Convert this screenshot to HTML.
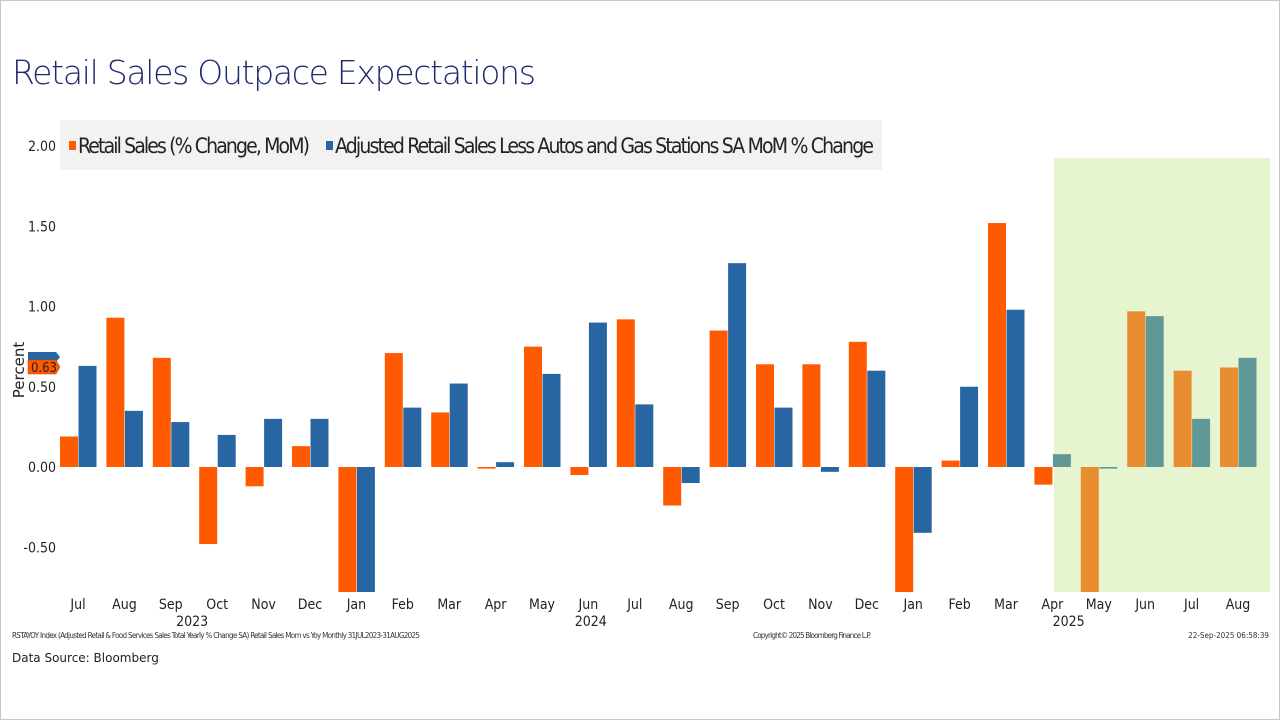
<!DOCTYPE html>
<html><head><meta charset="utf-8"><style>
html,body{margin:0;padding:0;background:#fff;}
#wrap{position:relative;width:1280px;height:720px;overflow:hidden;font-family:"Liberation Sans",sans-serif;}
</style></head><body>
<div id="wrap">
<svg id="chart" width="1280" height="720"></svg>
</div>
<script>
const categories=["Jul","Aug","Sep","Oct","Nov","Dec","Jan","Feb","Mar","Apr","May","Jun","Jul","Aug","Sep","Oct","Nov","Dec","Jan","Feb","Mar","Apr","May","Jun","Jul","Aug"];
const retailSales=[0.19,0.93,0.68,-0.48,-0.12,0.13,-1.0,0.71,0.34,-0.01,0.75,-0.05,0.92,-0.24,0.85,0.64,0.64,0.78,-0.9,0.04,1.52,-0.11,-0.9,0.97,0.60,0.62];
const adjustedSales=[0.63,0.35,0.28,0.20,0.30,0.30,-0.8,0.37,0.52,0.03,0.58,0.90,0.39,-0.10,1.27,0.37,-0.03,0.60,-0.41,0.50,0.98,0.08,-0.01,0.94,0.30,0.68];
const yTicks=[2.00,1.50,1.00,0.50,0.00,-0.50];
const yearLabels=[{i:2.46,t:"2023"},{i:11.05,t:"2024"},{i:21.35,t:"2025"}];
const shadeFrom=21;
const NS="http://www.w3.org/2000/svg";
const svg=document.getElementById('chart');
function mk(tag,attrs,txt){const e=document.createElementNS(NS,tag);for(const k in attrs)e.setAttribute(k,attrs[k]);if(txt!==undefined)e.textContent=txt;svg.appendChild(e);return e;}
const plotL=60,plotR=1272,plotT=158,plotB=592;
function y(v){return 467-v*160.5;}
function xc(i){return 78+i*46.4;}
let e;
e=mk('rect',{x:0.5,y:0.5,width:1279,height:719,fill:'#fff',stroke:'#c8c8c8'});

e=mk('text',{x:12,y:84,'font-size':33,fill:'#1f2a6e','font-family':'"DejaVu Sans",sans-serif','font-weight':'200',textLength:524},'Retail Sales Outpace Expectations');

e=mk('rect',{x:1054,y:plotT,width:216,height:plotB-plotT,fill:'#e6f5cf'});

e=mk('rect',{x:60,y:120,width:822,height:50,fill:'#f2f2f2'});

e=mk('rect',{x:69,y:141,width:7,height:9,fill:'#ff5a00'});

e=mk('text',{x:78,y:153,'font-size':21,fill:'#222','font-family':'"DejaVu Sans Condensed","DejaVu Sans",sans-serif',textLength:232},'Retail Sales (% Change, MoM)');

e=mk('rect',{x:326,y:141,width:7,height:9,fill:'#2765a3'});

e=mk('text',{x:335,y:153,'font-size':21,fill:'#222','font-family':'"DejaVu Sans Condensed","DejaVu Sans",sans-serif',textLength:539},'Adjusted Retail Sales Less Autos and Gas Stations SA MoM % Change');

yTicks.forEach(v=>{
  const t=mk('text',{x:56,y:y(v)+5,'font-size':14,'text-anchor':'end',fill:'#222','font-family':'"DejaVu Sans Condensed","DejaVu Sans",sans-serif'},v.toFixed(2));
  
});
e=mk('text',{x:24,y:370,'font-size':15,'text-anchor':'middle',fill:'#222',transform:'rotate(-90 24 370)','font-family':'"DejaVu Sans",sans-serif'},'Percent');

const clip=mk('clipPath',{id:'pc'});const cr=document.createElementNS(NS,'rect');
cr.setAttribute('x',plotL);cr.setAttribute('y',plotT);cr.setAttribute('width',plotR-plotL);cr.setAttribute('height',plotB-plotT);clip.appendChild(cr);
const g=mk('g',{'clip-path':'url(#pc)'});

function bar(v,x,col,name){
  const r=document.createElementNS(NS,'rect');
  const y1=Math.min(y(v),y(0)),h=Math.abs(y(v)-y(0));
  r.setAttribute('x',x);r.setAttribute('y',y1);r.setAttribute('width',18);r.setAttribute('height',Math.max(h,1));r.setAttribute('fill',col);
  
  g.appendChild(r);
}
categories.forEach((c,i)=>{
  bar(retailSales[i],xc(i)-18,i>shadeFrom?'#e88e30':'#ff5a00','bar-retail-sales');
  bar(adjustedSales[i],xc(i)+0.5,i>=shadeFrom?'#5f9896':'#2765a3','bar-adjusted-sales');
});
e=mk('path',{d:'M28,352 h28 l4,5 l-4,5 h-28z',fill:'#2765a3'});

e=mk('path',{d:'M28,360 h28 l4,7 l-4,7 h-28z',fill:'#ff5a00',stroke:'#c04000','stroke-width':0.5});

e=mk('text',{x:44,y:372,'font-size':13,'text-anchor':'middle',fill:'#222','font-family':'"DejaVu Sans Condensed",sans-serif'},'0.63');

categories.forEach((c,i)=>{
  const t=mk('text',{x:xc(i),y:609,'font-size':14,'text-anchor':'middle',fill:'#222','font-family':'"DejaVu Sans Condensed","DejaVu Sans",sans-serif'},c);
  
});
yearLabels.forEach(o=>{
  const t=mk('text',{x:xc(o.i),y:626,'font-size':14,'text-anchor':'middle',fill:'#222','font-family':'"DejaVu Sans Condensed","DejaVu Sans",sans-serif'},o.t);
  
});
e=mk('text',{x:12,y:638,'font-size':8,fill:'#333','font-family':'"DejaVu Sans Condensed",sans-serif',textLength:408},'RSTAYOY Index (Adjusted Retail & Food Services Sales Total Yearly % Change SA) Retail Sales Mom vs Yoy  Monthly 31JUL2023-31AUG2025');

e=mk('text',{x:753,y:638,'font-size':8,fill:'#333','font-family':'"DejaVu Sans Condensed",sans-serif',textLength:118},'Copyright\u00a9 2025 Bloomberg Finance L.P.');

e=mk('text',{x:1269,y:638,'font-size':8,fill:'#333','text-anchor':'end','font-family':'"DejaVu Sans Condensed",sans-serif'},'22-Sep-2025 06:58:39');

e=mk('text',{x:12,y:662,'font-size':12,fill:'#222','font-family':'"DejaVu Sans",sans-serif'},'Data Source: Bloomberg');

</script>
</body></html>
